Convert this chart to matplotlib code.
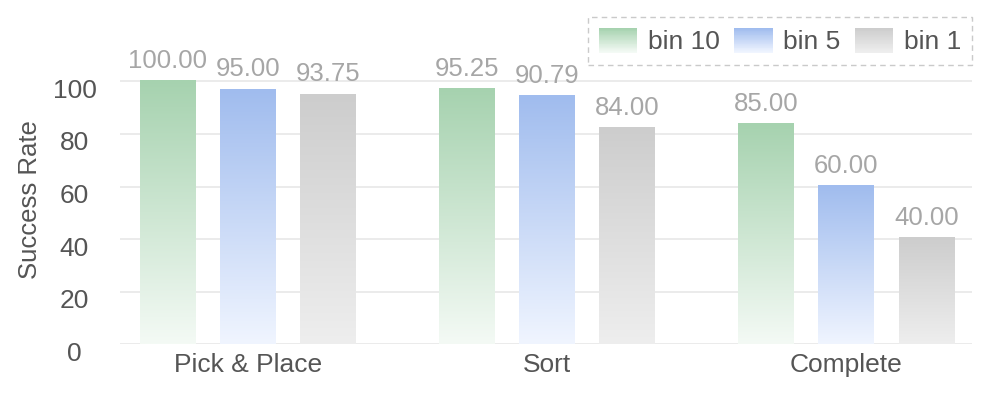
import numpy as np
import matplotlib
matplotlib.use("Agg")
import matplotlib.pyplot as plt
from matplotlib.colors import LinearSegmentedColormap, to_rgb
from matplotlib.patches import Rectangle
from matplotlib.legend_handler import HandlerBase
from matplotlib.transforms import ScaledTranslation

categories = ["Pick & Place", "Sort", "Complete"]
series_names = ["bin 10", "bin 5", "bin 1"]
# bar heights
bin10 = [100.0, 97.1, 83.8]
bin5 = [96.9, 94.3, 60.3]
bin1 = [95.0, 82.2, 40.5]
# value labels as printed above the bars
bin10_labels = ["100.00", "95.25", "85.00"]
bin5_labels = ["95.00", "90.79", "60.00"]
bin1_labels = ["93.75", "84.00", "40.00"]
yticks = [0, 20, 40, 60, 80, 100]

top_colors = ["#a6d2af", "#a0bcee", "#cdcdcd"]
bottom_colors = ["#f4faf5", "#f0f5ff", "#eeeeee"]

plt.rcParams['font.family'] = ['Liberation Sans', 'DejaVu Sans']

fig = plt.figure(figsize=(9.97, 3.95), dpi=100)
ax = fig.add_axes([120/997, 0.128, 852/997, 0.799])

x = np.arange(len(categories))
width = 0.187
offset = 0.268
series = [bin10, bin5, bin1]
labels = [bin10_labels, bin5_labels, bin1_labels]

grad = np.linspace(0, 1, 256).reshape(-1, 1)
for i, vals in enumerate(series):
    cmap = LinearSegmentedColormap.from_list(f"g{i}", [bottom_colors[i], top_colors[i]])
    bars = ax.bar(x + (i - 1) * offset, vals, width, color='none', edgecolor='none')
    for rect, lab in zip(bars, labels[i]):
        x0 = rect.get_x()
        w = rect.get_width()
        h = rect.get_height()
        ax.imshow(grad, extent=[x0, x0 + w, 0, h], origin='lower', cmap=cmap,
                  aspect='auto', zorder=2, interpolation='bilinear')
        ax.annotate(lab, (x0 + w / 2, h), xytext=(0, 6), textcoords='offset points',
                    ha='center', va='bottom', fontsize=18.5, color='#a6a6a6', zorder=3,
                    annotation_clip=False)

ax.set_xlim(-0.428, 2.42)
ax.set_ylim(0, 120)
ax.set_yticks(yticks)
ax.set_xticks(x)
ax.set_xticklabels(categories)
ax.tick_params(axis='both', length=0, labelsize=19, labelcolor='#555555')
ax.tick_params(axis='y', pad=32.8)
ax.tick_params(axis='x', pad=6)
for lab in ax.get_yticklabels():
    lab.set_ha('center')
    lab.set_transform(lab.get_transform() + ScaledTranslation(0, -5/72, fig.dpi_scale_trans))
for s in ax.spines.values():
    s.set_visible(False)
ax.grid(axis='y', color='#e6e6e6', linewidth=1.1, zorder=0)
ax.set_axisbelow(True)
ax.set_ylabel("Success Rate", fontsize=18.5, color='#555555')
ax.yaxis.set_label_coords(-0.092, 0.46)


class GradHandler(HandlerBase):
    def __init__(self, c0, c1):
        super().__init__()
        self.c0 = np.array(to_rgb(c0))
        self.c1 = np.array(to_rgb(c1))

    def create_artists(self, legend, orig_handle, xdescent, ydescent, width, height, fontsize, trans):
        arts = []
        n = 30
        for k in range(n):
            t = k / (n - 1)
            c = self.c0 * (1 - t) + self.c1 * t
            r = Rectangle((-xdescent, -ydescent + height * k / n), width, height / n + 0.3,
                          facecolor=c, edgecolor='none', transform=trans)
            arts.append(r)
        return arts


handles = [Rectangle((0, 0), 1, 1) for _ in series_names]
hmap = {h: GradHandler(bottom_colors[i], top_colors[i]) for i, h in enumerate(handles)}
leg = fig.legend(handles, series_names, loc='upper right', bbox_to_anchor=(972/997, 1 - 17/395),
                 ncol=3, fontsize=19, frameon=True, fancybox=False, handler_map=hmap,
                 handlelength=1.45, handleheight=1.05, handletextpad=0.4, columnspacing=0.55,
                 borderpad=0.42, labelcolor='#555555', borderaxespad=0)
fr = leg.get_frame()
fr.set_linestyle((0, (4, 3)))
fr.set_edgecolor('#bdbdbd')
fr.set_linewidth(1.0)

fig.savefig("out.png", dpi=100)
